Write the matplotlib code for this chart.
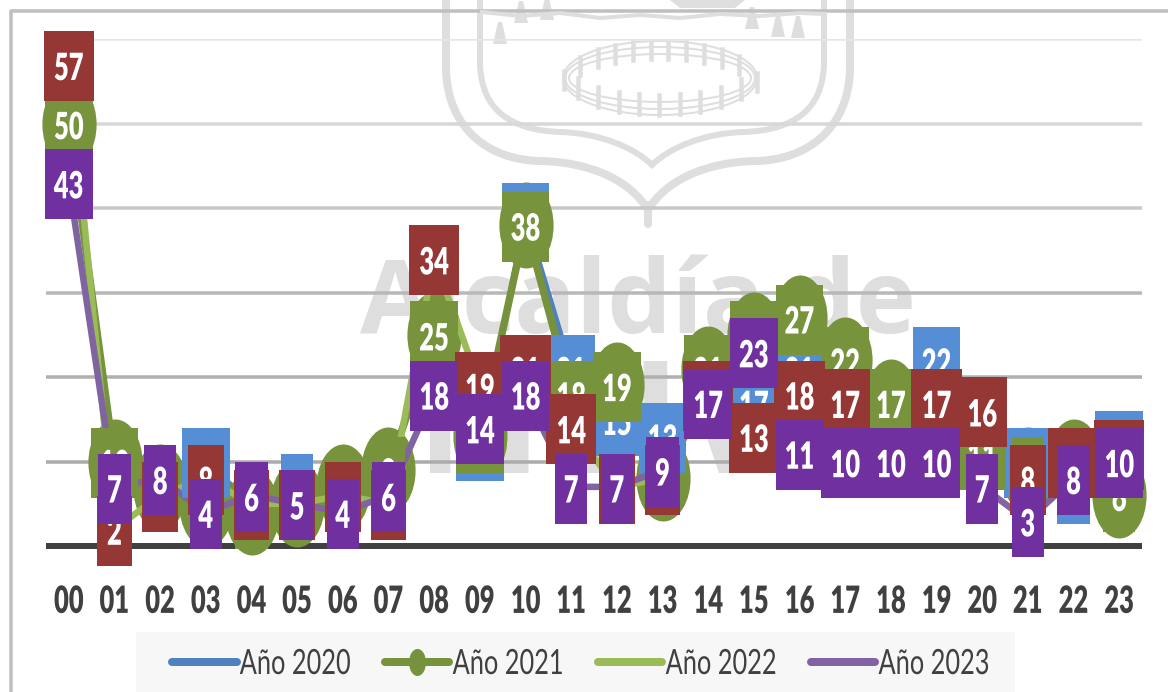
import numpy as np
import matplotlib
matplotlib.use("Agg")
import matplotlib.pyplot as plt
from matplotlib.lines import Line2D
from matplotlib.patches import Ellipse, PathPatch, Polygon, Rectangle
from matplotlib.patheffects import AbstractPathEffect
from matplotlib.path import Path
from matplotlib.transforms import Affine2D

hours = ["00", "01", "02", "03", "04", "05", "06", "07", "08", "09", "10", "11",
         "12", "13", "14", "15", "16", "17", "18", "19", "20", "21", "22", "23"]
y2020 = [50, 9, 6, 10, 5, 7, 4, 6, 18, 12, 39, 21, 15, 13, 18, 17, 21, 13, 12, 22, 9, 10, 7, 12]
y2021 = [50, 10, 7, 5, 4, 5, 7, 9, 25, 13, 38, 18, 19, 8, 21, 25, 27, 22, 17, 13, 11, 9, 10, 6]
y2022 = [57, 2, 6, 8, 5, 5, 6, 5, 34, 19, 21, 14, 7, 8, 18, 13, 18, 17, 10, 17, 16, 8, 10, 11]
y2023 = [43, 7, 8, 4, 6, 5, 4, 6, 18, 14, 18, 7, 7, 9, 17, 23, 11, 10, 10, 10, 7, 3, 8, 10]
series_names = ["Año 2020", "Año 2021", "Año 2022", "Año 2023"]

line_colors = ["#4F81BD", "#76923C", "#9BBB59", "#8064A2"]
box_colors = ["#558ED5", "#77933C", "#953735", "#7030A0"]
line_widths = [5, 7.5, 6.5, 6.5]
grid_values = [10, 20, 30, 40, 50, 60]
grid_colors = ["#ABABAB", "#B0B0B0", "#B8B8B8", "#C8C8C8", "#D8D8D8", "#E6E6E6"]

FONT = "Lato"
PX = 72 / 100  # points per pixel at dpi 100
WATERMARK = "#DEDEDE"


class Squeeze(AbstractPathEffect):
    # the reference is a stretched screenshot, so its text is narrow and tall
    def __init__(self, sx, anchor="center"):
        super().__init__()
        self.sx = sx
        self.anchor = anchor

    def draw_path(self, renderer, gc, tpath, affine, rgbFace=None):
        ext = tpath.get_extents()
        x0 = ext.x0 if self.anchor == "left" else (ext.x0 + ext.x1) / 2
        squeeze = Affine2D().translate(-x0, 0).scale(self.sx, 1).translate(x0, 0)
        renderer.draw_path(gc, tpath, squeeze + affine, rgbFace)


fig = plt.figure(figsize=(11.68, 6.92), dpi=100, facecolor="white")

# Background layer in pixel coordinates: frame, watermark, legend panel
bg = fig.add_axes([0, 0, 1, 1], zorder=0)
bg.set_xlim(0, 1168)
bg.set_ylim(692, 0)
bg.axis("off")
bg.plot([11, 11, 1168], [692, 11, 11], color="#BFBFBF", lw=3.5 * PX)
bg.add_patch(Rectangle((136, 632), 879, 60, fc="#F7F7F7", ec="none"))


def mirrored_shield(left, top_y, side_y, c1, c2, mid, c3, c4, tip):
    cx = tip[0]
    m = lambda p: (2 * cx - p[0], p[1])
    verts = [(left, top_y), (left, side_y), c1, c2, mid, c3, c4, tip,
             m(c4), m(c3), m(mid), m(c2), m(c1), (2 * cx - left, side_y), (2 * cx - left, top_y)]
    codes = [Path.MOVETO, Path.LINETO] + [Path.CURVE4] * 12 + [Path.LINETO]
    return Path(verts, codes)


bg.add_patch(PathPatch(mirrored_shield(446, 0, 70, (448, 130), (490, 160), (540, 161),
                                       (590, 162), (630, 180), (648, 210)),
                       fc="none", ec=WATERMARK, lw=8 * PX))
bg.plot([648, 648], [205, 224], color=WATERMARK, lw=8 * PX, solid_capstyle="round")
bg.add_patch(PathPatch(mirrored_shield(480, 0, 65, (482, 110), (510, 130), (560, 132),
                                       (600, 133), (635, 148), (652, 165)),
                       fc="none", ec=WATERMARK, lw=6 * PX))

# Fence of the bullring
for ry, rx in [(37, 97), (31, 95), (24, 91)]:
    bg.add_patch(Ellipse((660, 78), 2 * rx, 2 * ry, fc="none", ec=WATERMARK, lw=2 * PX))
for px_x in [564, 580, 598, 615, 633, 651, 668, 686, 704, 722, 739, 757]:
    top = 78 - 37 * np.sqrt(1 - ((px_x - 660) / 98) ** 2)
    bg.plot([px_x, px_x], [top, top + 18], color=WATERMARK, lw=4.5 * PX)
for px_x in [578, 598, 619, 639, 659, 680, 700, 721, 741]:
    end = 78 + 37 * np.sqrt(1 - ((px_x - 660) / 98) ** 2)
    bg.plot([px_x, px_x], [end - 20, end], color=WATERMARK, lw=4.5 * PX)

# Ribbon, bells and boat
bg.plot([482, 520, 560, 600, 640, 680, 720, 760, 800, 825],
        [12, 16, 13, 18, 15, 18, 14, 16, 13, 14], color=WATERMARK, lw=4 * PX)
for bx, by in [(500, 44), (521, 23), (547, 20), (752, 29), (778, 37), (798, 38)]:
    bg.add_patch(Polygon([(bx - 2, by - 22), (bx + 2, by - 22), (bx + 7, by), (bx - 7, by)],
                         fc=WATERMARK, ec="none"))
bg.add_patch(Polygon([(670, 0), (745, 0), (735, 8), (680, 8)], fc=WATERMARK, ec="none"))

bg.text(638, 333, "Alcaldía de", family="Open Sans", weight="bold", fontsize=73.5,
        color=WATERMARK, ha="center", va="baseline")
bg.text(650, 473, "NEIVA", family="Open Sans", weight="bold", fontsize=112,
        color=WATERMARK, ha="center", va="baseline")

# Chart
ax = fig.add_axes([46 / 1168, (692 - 546) / 692, 1096 / 1168, 507 / 692], zorder=1)
ax.patch.set_alpha(0)
x = np.arange(len(hours))
values = [y2020, y2021, y2022, y2023]

oval = Path.unit_circle().transformed(Affine2D().scale(0.63, 1))
for i, vals in enumerate(values):
    ax.plot(x, vals, color=line_colors[i], lw=line_widths[i] * PX, zorder=3 + i * 0.1,
            solid_capstyle="round", clip_on=False)
ax.plot(x, y2021, linestyle="none", marker=oval, markersize=86 * PX, color=box_colors[1],
        markeredgewidth=0, zorder=3.15, clip_on=False)

# Data labels: coloured boxes with white numbers, last series on top
px_x = 45.67
px_y = 507 / 60
squeeze = Squeeze(0.68)
for i, vals in enumerate(values):
    extra = 3 if i == 2 else 0
    wide = (47.5 + extra) / px_x
    narrow = (32.5 + extra) / px_x
    widths = [wide if v >= 10 else narrow for v in vals]
    h = 70 / px_y
    ax.bar(x, h, width=widths, bottom=np.array(vals) - h / 2 - 0.2, color=box_colors[i],
           zorder=5 + i, clip_on=False)
    for xi, v in zip(x, vals):
        ax.text(xi, v - 0.2, str(v), color="white", fontsize=27, family=FONT, weight="heavy",
                ha="center", va="center_baseline", zorder=5.5 + i, clip_on=False,
                path_effects=[squeeze])

ax.set_xlim(-0.5, 23.5)
ax.set_ylim(0, 60)
ax.set_xticks(x)
ax.set_xticklabels(hours, family=FONT, weight="heavy", fontsize=27, color="#404040",
                   path_effects=[squeeze])
ax.set_yticks(grid_values)
ax.set_yticklabels([])
ax.tick_params(axis="both", length=0)
ax.tick_params(axis="x", pad=28)
ax.grid(True, axis="y", lw=3.5 * PX)
ax.set_axisbelow(True)
for line, color in zip(ax.get_ygridlines(), grid_colors):
    line.set_color(color)
for name in ["top", "right", "left"]:
    ax.spines[name].set_visible(False)
ax.spines["bottom"].set_color("#404040")
ax.spines["bottom"].set_linewidth(6 * PX)
ax.spines["bottom"].set_capstyle("butt")
ax.spines["bottom"].set_zorder(2.5)

handles = [Line2D([], [], color=line_colors[0], lw=8 * PX, solid_capstyle="round"),
           Line2D([], [], color=line_colors[1], lw=8 * PX, solid_capstyle="round",
                  marker=oval, markersize=27 * PX, markeredgewidth=0),
           Line2D([], [], color=line_colors[2], lw=8 * PX, solid_capstyle="round"),
           Line2D([], [], color=line_colors[3], lw=8 * PX, solid_capstyle="round")]
leg = fig.legend(handles=handles, labels=series_names, loc="center left",
                 bbox_to_anchor=(172 / 1168, (692 - 664) / 692), ncol=4, frameon=False,
                 prop={"family": FONT, "size": 25}, labelcolor="#404040",
                 handlelength=1.86, handletextpad=0.09, columnspacing=-0.2,
                 borderpad=0, borderaxespad=0)
leg.set_zorder(20)
for t in leg.get_texts():
    t.set_path_effects([Squeeze(0.73, anchor="left")])

fig.savefig("out.png", dpi=100)
